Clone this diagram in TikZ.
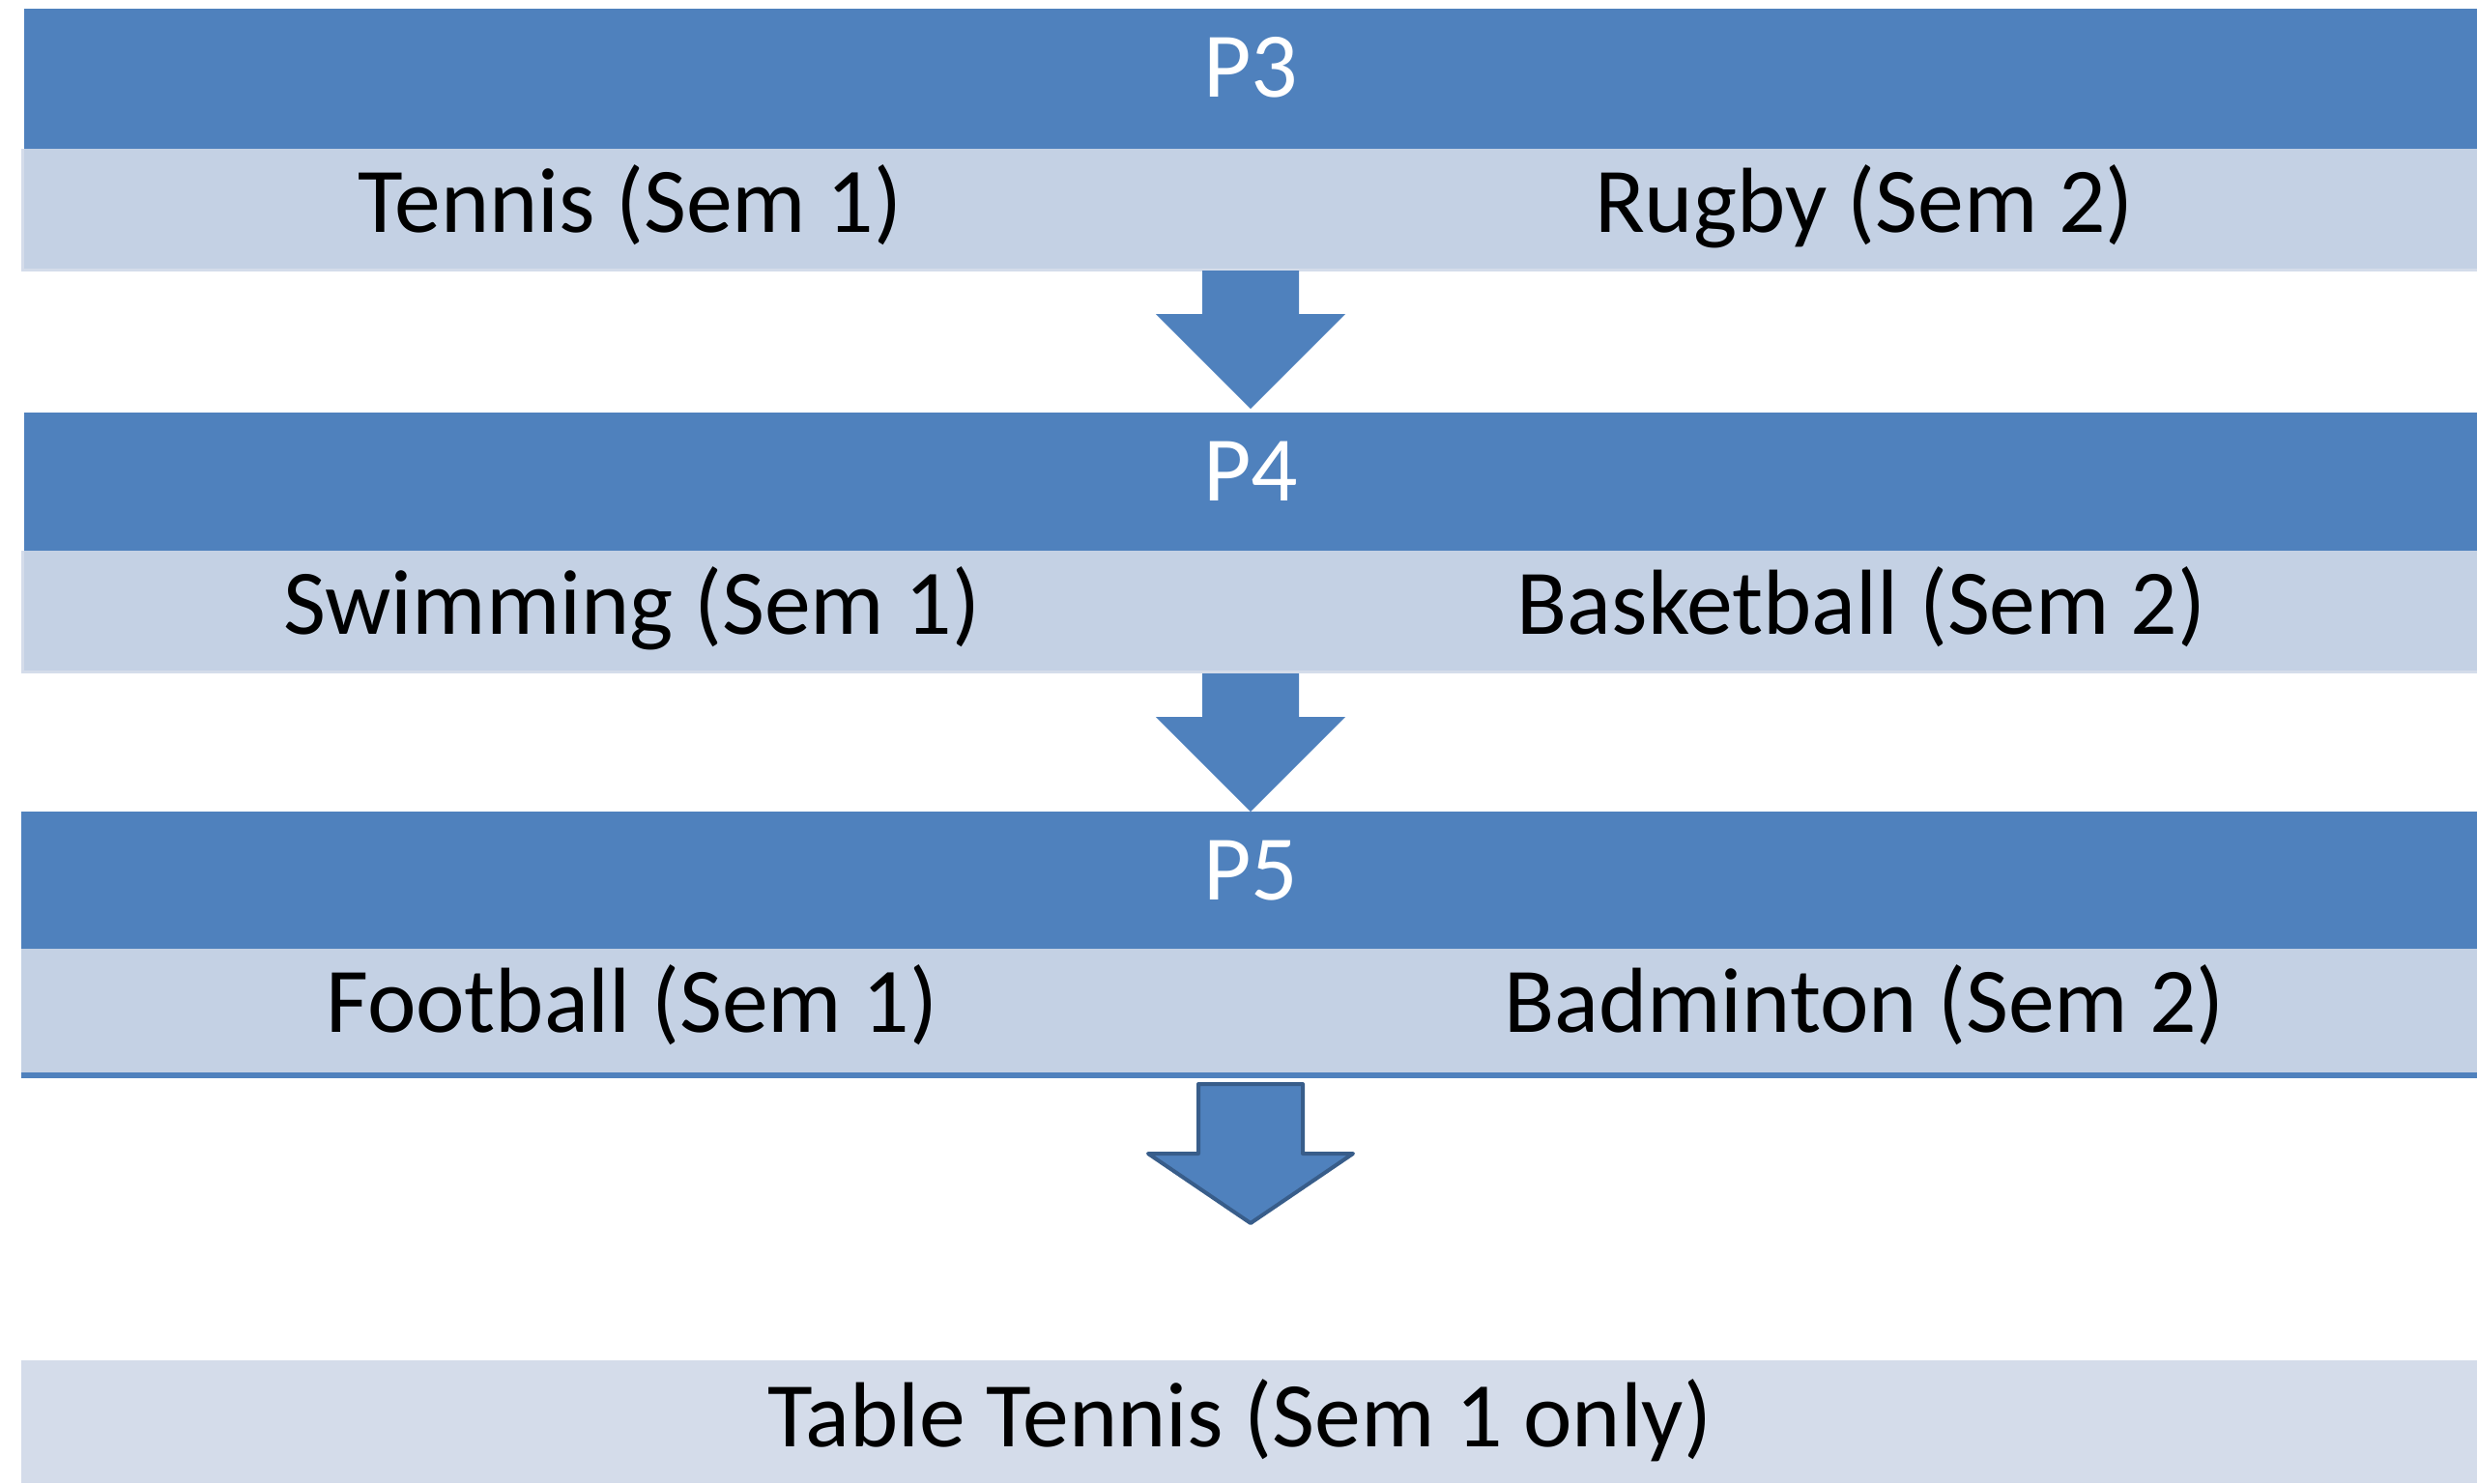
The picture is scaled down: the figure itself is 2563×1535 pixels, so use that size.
\documentclass[tikz,border=0pt]{standalone}
\usepackage{fontspec}
\setmainfont{Carlito}
\usepackage{tikz}

\definecolor{bandblue}{HTML}{4F81BD}
\definecolor{rowblue}{HTML}{C4D1E4}
\definecolor{edgeblue}{HTML}{D4DCEA}
\definecolor{arrowline}{HTML}{385D8A}

\tikzset{
    title/.style={text=white, anchor=base, inner sep=0pt, font=\fontsize{27.2}{30}\selectfont},
    sport/.style={text=black, anchor=base, inner sep=0pt, font=\fontsize{27.2}{30}\selectfont}
}

\begin{document}
\begin{tikzpicture}[x=0.01cm, y=-0.01cm]
    \useasboundingbox (0,0) rectangle (2563,1535);
    % P3 block
    \fill[bandblue] (25,9) rectangle (2563,154);
    \fill[edgeblue] (22,154) rectangle (2563,281);
    \fill[rowblue] (25,154) rectangle (2563,278);
    \node[title] (p3) at (1294,100) {P3};
    \node[sport] (tennis) at (652,240) {Tennis (Sem 1)};
    \node[sport] (rugby) at (1929,240) {Rugby (Sem 2)};
    % P4 block
    \fill[bandblue] (25,427) rectangle (2563,570);
    \fill[edgeblue] (22,570) rectangle (2563,697);
    \fill[rowblue] (25,570) rectangle (2563,694);
    \node[title] (p4) at (1294,518) {P4};
    \node[sport] (swimming) at (654,656) {Swimming (Sem 1)};
    \node[sport] (basketball) at (1926,656) {Basketball (Sem 2)};
    % P5 block
    \fill[bandblue] (22,840) rectangle (2563,982);
    \fill[rowblue] (22,982) rectangle (2563,1110);
    \fill[bandblue] (22,1110) rectangle (2563,1116);
    \node[title] (p5) at (1294,931) {P5};
    \node[sport] (football) at (654,1068) {Football (Sem 1)};
    \node[sport] (badminton) at (1929,1068) {Badminton (Sem 2)};
    % extra option
    \fill[edgeblue] (22,1408) rectangle (2563,1535);
    \node[sport] (tabletennis) at (1283,1497) {Table Tennis (Sem 1 only)};
    % arrows between the years
    \fill[bandblue] (1244,280) -- (1344,280) -- (1344,325) -- (1392,325) -- (1294,423)
        -- (1196,325) -- (1244,325) -- cycle;
    \fill[bandblue] (1244,697) -- (1344,697) -- (1344,742) -- (1392,742) -- (1294,840)
        -- (1196,742) -- (1244,742) -- cycle;
    \draw[arrowline, fill=bandblue, line width=0.04cm, line join=round]
        (1240,1122) -- (1348,1122) -- (1348,1194) -- (1400,1194) -- (1294,1266)
        -- (1188,1194) -- (1240,1194) -- cycle;
\end{tikzpicture}
\end{document}
